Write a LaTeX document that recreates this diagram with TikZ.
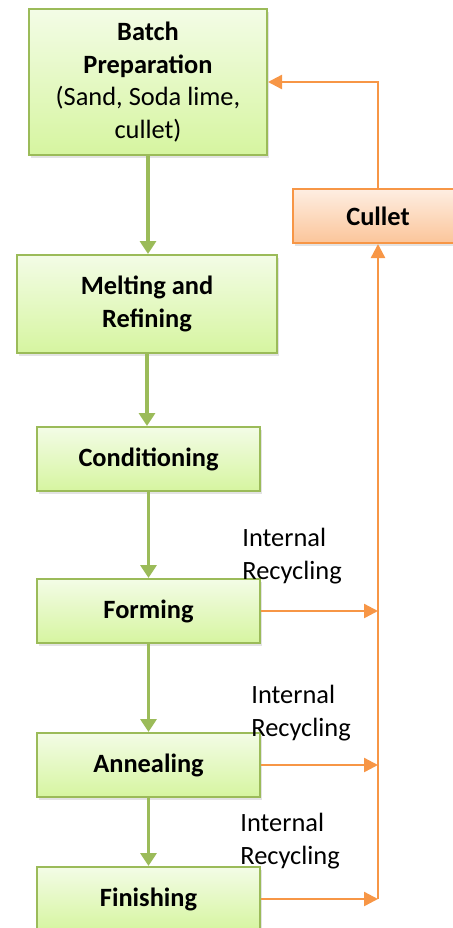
\documentclass[tikz,border=0pt]{standalone}
\usepackage{fontspec}
\setmainfont{Carlito}
\usepackage{tikz}
\usetikzlibrary{positioning,arrows.meta,shadows}
\definecolor{verdeborde}{HTML}{9BBB59}
\definecolor{verdeclaro}{HTML}{F3FCE6}
\definecolor{verdefondo}{HTML}{D6F5A0}
\definecolor{naranja}{HTML}{F79646}
\definecolor{naranjaclaro}{HTML}{FEEEE2}
\definecolor{naranjafondo}{HTML}{FBC59A}
\tikzset{
  etapa/.style={rectangle, draw=verdeborde, line width=1pt, top color=verdeclaro,
    bottom color=verdefondo, align=center, inner sep=2pt,
    font=\fontsize{13.2}{16.4}\selectfont\bfseries,
    drop shadow={shadow xshift=1.2pt, shadow yshift=-1.5pt, opacity=0.22}},
  cascos/.style={rectangle, draw=naranja, line width=1pt, top color=naranjaclaro,
    bottom color=naranjafondo, align=center, inner sep=2pt,
    font=\fontsize{13.2}{16.4}\selectfont\bfseries,
    drop shadow={shadow xshift=1.2pt, shadow yshift=-1.5pt, opacity=0.22}},
  rotulo/.style={align=left, inner sep=0pt, font=\fontsize{13.2}{16.2}\selectfont},
  flechaverde/.style={-{Triangle[length=6.5pt, width=8pt]}, draw=verdeborde, line width=1.8pt},
  flechanaranja/.style={-{Triangle[length=7pt, width=7pt]}, draw=naranja, line width=1.2pt},
}
\begin{document}
\begin{tikzpicture}[x=0.5pt, y=-0.5pt]
  \useasboundingbox (0,0) rectangle (453,928);
  % etapas del proceso
  \node[etapa, minimum width=119pt, minimum height=73pt] (batch) at (148,82)
    {Batch\\Preparation\\\textmd{(Sand, Soda lime,}\\\textmd{cullet)}};
  \node[etapa, minimum width=130pt, minimum height=49pt] (melt) at (147,304)
    {Melting and\\Refining};
  \node[etapa, minimum width=111.5pt, minimum height=32pt] (cond) at (148.5,459) {Conditioning};
  \node[etapa, minimum width=111.5pt, minimum height=32pt] (form) at (148.5,611) {Forming};
  \node[etapa, minimum width=111.5pt, minimum height=32pt] (anneal) at (148.5,765) {Annealing};
  \node[etapa, minimum width=111.5pt, minimum height=32pt] (finish) at (148.5,899) {Finishing};
  \node[cascos, minimum width=85pt, minimum height=27pt] (cullet) at (378,216) {Cullet};
  % flujo principal
  \draw[flechaverde] (batch.south) -- (batch.south |- melt.north);
  \draw[flechaverde] (melt.south) -- (melt.south |- cond.north);
  \draw[flechaverde] (cond.south) -- (cond.south |- form.north);
  \draw[flechaverde] (form.south) -- (form.south |- anneal.north);
  \draw[flechaverde] (anneal.south) -- (anneal.south |- finish.north);
  % reciclado
  \coordinate (bajo) at (378,899);
  \draw[flechanaranja] (bajo) -- (cullet.south);
  \draw[flechanaranja] (cullet.north) |- (batch.east);
  \draw[flechanaranja] (form.east) -- (form.east -| bajo);
  \draw[flechanaranja] (anneal.east) -- (anneal.east -| bajo);
  \draw[flechanaranja] (finish.east) -- (bajo);
  \node[rotulo, anchor=north west] (rec1) at (242,528) {Internal\\Recycling};
  \node[rotulo, anchor=north west] (rec2) at (251,685) {Internal\\Recycling};
  \node[rotulo, anchor=north west] (rec3) at (240,813) {Internal\\Recycling};
\end{tikzpicture}
\end{document}
